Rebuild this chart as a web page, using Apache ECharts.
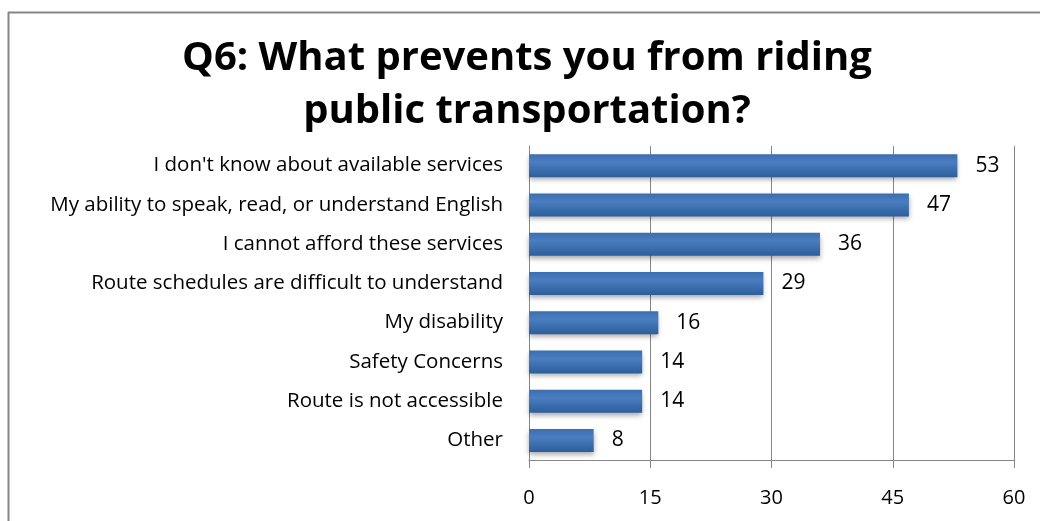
<!DOCTYPE html>
<html>
<head>
<meta charset="utf-8">
<script src="https://cdn.jsdelivr.net/npm/echarts@6/dist/echarts.min.js"></script>
<style>html,body{margin:0;padding:0;background:#fff;}#c{width:1040px;height:521px;}</style>
</head>
<body>
<div id="c"></div>
<script>
const titleText = "Q6: What prevents you from riding\npublic transportation?";
const categories = [
  "I don't know about available services",
  "My ability to speak, read, or understand English",
  "I cannot afford these services",
  "Route schedules are difficult to understand",
  "My disability",
  "Safety Concerns",
  "Route is not accessible",
  "Other"
];
const values = [53, 47, 36, 29, 16, 14, 14, 8];
const xTicks = [0, 15, 30, 45, 60];

const chart = echarts.init(document.getElementById('c'));
const font = "'Open Sans', 'Liberation Sans', sans-serif";
chart.setOption({
  animation: false,
  title: {
    text: titleText,
    left: 522, top: 27, textAlign: 'center',
    textStyle: {fontFamily: font, fontSize: 40, fontWeight: 'bold', color: '#000', lineHeight: 53}
  },
  graphic: [
    {type: 'line', shape: {x1: 8, y1: 12.5, x2: 1040, y2: 12.5}, style: {stroke: '#868686', lineWidth: 2}},
    {type: 'line', shape: {x1: 8.5, y1: 12, x2: 8.5, y2: 521}, style: {stroke: '#868686', lineWidth: 2}}
  ],
  grid: {left: 529, right: 26, top: 146, bottom: 61, containLabel: false},
  xAxis: {
    type: 'value', min: 0, max: 60, interval: 15,
    axisLine: {show: true, lineStyle: {color: '#868686', width: 1}},
    axisTick: {show: true, length: 8, lineStyle: {color: '#868686'}},
    splitLine: {show: true, lineStyle: {color: '#868686', width: 1}},
    axisLabel: {margin: 28, fontFamily: font, fontSize: 20, color: '#000',
      formatter: v => xTicks.includes(v) ? String(v) : ''}
  },
  yAxis: {
    type: 'category', data: categories, inverse: true,
    axisLine: {show: true, lineStyle: {color: '#868686'}},
    axisTick: {show: false},
    axisLabel: {margin: 26, fontFamily: font, fontSize: 20.5, color: '#000'}
  },
  series: [{
    type: 'bar', data: values, barWidth: 23,
    itemStyle: {
      color: new echarts.graphic.LinearGradient(0, 0, 0, 1, [
        {offset: 0, color: '#3a6eb0'},
        {offset: 0.35, color: '#4a7ec0'},
        {offset: 1, color: '#2d5e9c'}
      ]),
      shadowColor: 'rgba(0,0,0,0.35)', shadowBlur: 5, shadowOffsetY: 3
    },
    label: {show: true, position: 'right', distance: 18, fontFamily: font, fontSize: 21, color: '#000'}
  }]
});
</script>
</body>
</html>
